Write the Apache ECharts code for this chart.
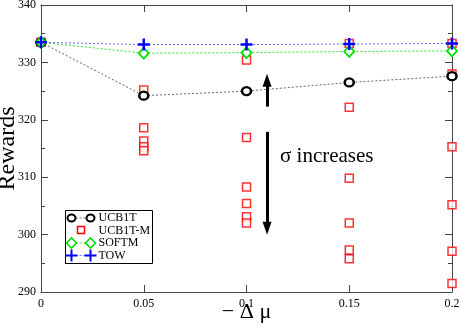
<!DOCTYPE html>
<html><head><meta charset="utf-8">
<script src="https://cdn.jsdelivr.net/npm/echarts@6/dist/echarts.min.js"></script>
<style>html,body{margin:0;padding:0;background:#fff}#c{width:461px;height:330px}</style>
</head><body><div id="c"></div>
<script>
const xValues = [0, 0.05, 0.1, 0.15, 0.2];
const xTickLabels = ['0', '0.05', '0.1', '0.15', '0.2'];
const yTickLabels = ['290', '300', '310', '320', '330', '340'];
const ucb1t = [333.5, 324.2, 325.0, 326.5, 327.6];
const softm = [333.5, 331.6, 331.7, 331.9, 332.0];
const tow = [333.5, 333.1, 333.1, 333.2, 333.3];
const ucb1tM = [
  [333.5],
  [325.2, 318.6, 316.3, 315.3, 314.6],
  [330.4, 316.9, 308.3, 305.4, 303.1, 302.0],
  [333.3, 322.2, 309.8, 302.0, 297.3, 295.8],
  [333.3, 328.0, 315.3, 305.2, 297.1, 291.5]
];
const seriesNames = ['UCB1T', 'UCB1T-M', 'SOFTM', 'TOW'];
const arrowX = 0.11;
const arrowUp = [322.3, 326.9];
const arrowDown = [317.9, 301.1];
const annotation = 'σ increases';

const FONT = '"Liberation Serif", "Times New Roman", serif';
const chart = echarts.init(document.getElementById('c'), null, {renderer: 'canvas'});
const pair = (vals) => xValues.map((x, i) => [x, vals[i]]);
const mData = [];
ucb1tM.forEach((arr, i) => arr.forEach(v => mData.push([xValues[i], v])));

const axisCommon = {
  type: 'value',
  axisLine: {show: true, onZero: false, lineStyle: {color: '#444', width: 1}},
  axisTick: {show: true, inside: true, length: 7, lineStyle: {color: '#444', width: 1}},
  splitLine: {show: false},
  nameMoveOverlap: false
};
const plusPath = 'path://M0,5L10,5M5,0L5,10';

chart.setOption({
  animation: false,
  backgroundColor: '#fff',
  grid: {left: 41, right: 9, top: 5, bottom: 38, containLabel: false, outerBoundsMode: 'none'},
  xAxis: [
    Object.assign({}, axisCommon, {
      position: 'bottom', min: 0, max: 0.2, interval: 0.05,
      name: '− Δ μ', nameLocation: 'middle', nameGap: 9,
      nameTextStyle: {fontFamily: FONT, fontSize: 22, color: '#000', verticalAlign: 'top'},
      axisLabel: {fontFamily: FONT, fontSize: 12, color: '#000', margin: 6,
        formatter: (v) => { const i = xValues.findIndex(x => Math.abs(x - v) < 1e-9); return i >= 0 ? xTickLabels[i] : ''; }}
    }),
    Object.assign({}, axisCommon, {
      position: 'top', min: 0, max: 0.2, interval: 0.05, axisLabel: {show: false}
    })
  ],
  yAxis: [
    Object.assign({}, axisCommon, {
      position: 'left', min: 290, max: 340, interval: 10,
      name: 'Rewards', nameLocation: 'middle', nameGap: 21,
      nameTextStyle: {fontFamily: FONT, fontSize: 24, color: '#000'},
      minorTick: {show: true, splitNumber: 2, length: 4, lineStyle: {color: '#444'}},
      axisLabel: {fontFamily: FONT, fontSize: 12, color: '#000', margin: 5,
        formatter: (v) => { const s = String(Math.round(v)); return yTickLabels.includes(s) ? s : ''; }}
    }),
    Object.assign({}, axisCommon, {
      position: 'right', min: 290, max: 340, interval: 10, axisLabel: {show: false},
      minorTick: {show: true, splitNumber: 2, length: 4, lineStyle: {color: '#444'}}
    })
  ],
  series: [
    {
      name: seriesNames[1], type: 'scatter', data: mData, symbol: 'rect', symbolSize: 8,
      itemStyle: {color: '#fff', borderColor: '#ff0000', borderWidth: 1.5}, z: 2
    },
    {
      name: seriesNames[0], type: 'line', data: pair(ucb1t), symbol: 'circle', symbolSize: [9, 8],
      showAllSymbol: true,
      itemStyle: {color: '#fff', borderColor: '#000', borderWidth: 2.4},
      lineStyle: {color: '#666', width: 1, type: [2, 2]}, z: 3,
      markLine: {
        silent: true, symbol: ['none', 'triangle'], symbolSize: [9, 13], label: {show: false},
        lineStyle: {color: '#000', width: 3, type: 'solid'},
        data: [
          [{coord: [arrowX, arrowUp[0]]}, {coord: [arrowX, arrowUp[1]]}],
          [{coord: [arrowX, arrowDown[0]]}, {coord: [arrowX, arrowDown[1]]}]
        ]
      }
    },
    {
      name: seriesNames[2], type: 'line', data: pair(softm), symbol: 'diamond', symbolSize: [10, 11],
      showAllSymbol: true,
      itemStyle: {color: '#fff', borderColor: '#00e000', borderWidth: 1.8},
      lineStyle: {color: '#33dd33', width: 1, type: [2, 2]}, z: 4
    },
    {
      name: seriesNames[3], type: 'line', data: pair(tow), symbol: plusPath, symbolSize: 12,
      showAllSymbol: true,
      itemStyle: {color: 'none', borderColor: '#0000ff', borderWidth: 2.5},
      lineStyle: {color: '#6666ff', width: 1, type: [2, 2]}, z: 5
    }
  ],
  graphic: [
    {type: 'text', left: 280, top: 146, style: {text: annotation, font: '21px ' + FONT, fill: '#000'}},
    {
      type: 'group', left: 63, top: 210, children: [
        {type: 'rect', shape: {x: 0, y: 0, width: 87, height: 53}, style: {fill: '#fff', stroke: '#000', lineWidth: 1}},
        {type: 'line', shape: {x1: 6, y1: 7.5, x2: 25, y2: 7.5}, style: {stroke: '#666', lineWidth: 1, lineDash: [2, 2]}},
        {type: 'ellipse', shape: {cx: 6, cy: 7.5, rx: 4, ry: 3.5}, style: {fill: '#fff', stroke: '#000', lineWidth: 2}},
        {type: 'ellipse', shape: {cx: 25, cy: 7.5, rx: 4, ry: 3.5}, style: {fill: '#fff', stroke: '#000', lineWidth: 2}},
        {type: 'text', x: 33, y: 7.5, style: {text: seriesNames[0], font: '12px ' + FONT, fill: '#000', verticalAlign: 'middle'}},
        {type: 'rect', shape: {x: 12, y: 16, width: 7, height: 7}, style: {fill: '#fff', stroke: '#ff0000', lineWidth: 1.5}},
        {type: 'text', x: 33, y: 20, style: {text: seriesNames[1], font: '12px ' + FONT, fill: '#000', verticalAlign: 'middle'}},
        {type: 'line', shape: {x1: 6, y1: 32.5, x2: 25, y2: 32.5}, style: {stroke: '#33dd33', lineWidth: 1, lineDash: [2, 2]}},
        {type: 'polygon', shape: {points: [[6, 27.5], [11, 32.5], [6, 37.5], [1, 32.5]]}, style: {fill: '#fff', stroke: '#00e000', lineWidth: 1.6}},
        {type: 'polygon', shape: {points: [[25, 27.5], [30, 32.5], [25, 37.5], [20, 32.5]]}, style: {fill: '#fff', stroke: '#00e000', lineWidth: 1.6}},
        {type: 'text', x: 33, y: 32.5, style: {text: seriesNames[2], font: '12px ' + FONT, fill: '#000', verticalAlign: 'middle'}},
        {type: 'line', shape: {x1: 6, y1: 45, x2: 25, y2: 45}, style: {stroke: '#6666ff', lineWidth: 1, lineDash: [2, 2]}},
        {type: 'line', shape: {x1: 0, y1: 45, x2: 12, y2: 45}, style: {stroke: '#0000ff', lineWidth: 2}},
        {type: 'line', shape: {x1: 6, y1: 39, x2: 6, y2: 51}, style: {stroke: '#0000ff', lineWidth: 2}},
        {type: 'line', shape: {x1: 19, y1: 45, x2: 31, y2: 45}, style: {stroke: '#0000ff', lineWidth: 2}},
        {type: 'line', shape: {x1: 25, y1: 39, x2: 25, y2: 51}, style: {stroke: '#0000ff', lineWidth: 2}},
        {type: 'text', x: 33, y: 45, style: {text: seriesNames[3], font: '12px ' + FONT, fill: '#000', verticalAlign: 'middle'}}
      ]
    }
  ]
});
</script></body></html>
